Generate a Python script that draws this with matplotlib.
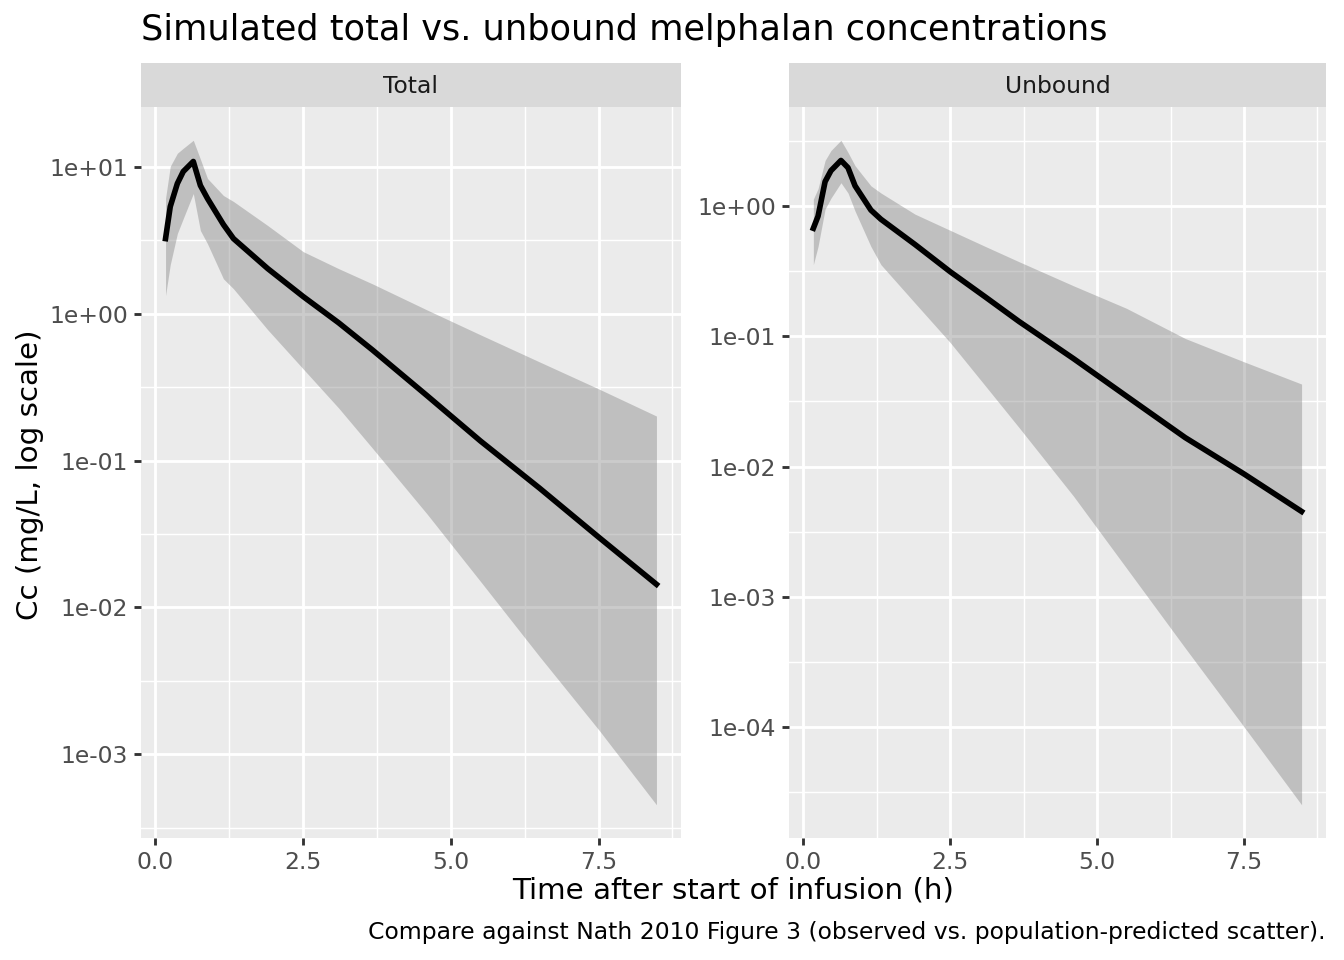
"""
Simulated total vs. unbound melphalan concentrations (median + ribbon), log scale.
"""

import numpy as np
import matplotlib.pyplot as plt
from matplotlib.ticker import FixedLocator, FuncFormatter

# Time grid (h)
time_h = [0.17, 0.25, 0.37, 0.47, 0.64, 0.76, 0.88, 1.15, 1.32, 1.9,
          2.5, 3.1, 3.67, 4.6, 5.5, 6.5, 7.5, 8.48]

# Total concentration (mg/L)
total_med = [3.25, 5.37, 7.71, 9.31, 10.9, 7.48, 6.10, 4.05, 3.25, 2.03,
             1.31, 0.868, 0.568, 0.276, 0.136, 0.0649, 0.0301, 0.01435]
total_hi = [6.10, 10.1, 12.4, 13.4, 15.2, 11.3, 8.35, 6.39, 5.82, 3.99,
            2.65, 2.03, 1.60, 1.06, 0.719, 0.470, 0.308, 0.201]
total_lo = [1.33, 2.16, 3.52, 4.45, 6.59, 3.69, 3.00, 1.73, 1.48, 0.778,
            0.421, 0.228, 0.1217, 0.0431, 0.01504, 0.00463, 0.00147, 0.000452]

# Unbound concentration (mg/L)
unb_med = [0.675, 0.836, 1.54, 1.87, 2.24, 1.97, 1.43, 0.931, 0.792, 0.507,
           0.313, 0.200, 0.130, 0.0673, 0.0347, 0.01667, 0.00877, 0.00452]
unb_hi = [1.13, 1.36, 2.24, 2.67, 3.20, 2.58, 2.04, 1.43, 1.26, 0.867,
          0.651, 0.489, 0.374, 0.244, 0.164, 0.0962, 0.0637, 0.0430]
unb_lo = [0.355, 0.489, 0.948, 1.15, 1.51, 1.26, 0.915, 0.489, 0.355, 0.180,
          0.0895, 0.0415, 0.01995, 0.00591, 0.00166, 0.000404, 0.0001004, 2.53e-5]

panel_names = ['Total', 'Unbound']
x_ticks = [0.0, 2.5, 5.0, 7.5]
x_minor = [1.25, 3.75, 6.25, 8.75]

fig = plt.figure(figsize=(7, 5), dpi=192)

# Panel positions in figure fractions
bottom, top = 0.1271, 0.8885
lefts = [0.1049, 0.5870]
widths = [0.4018, 0.3996]
strip_h = 0.0458

series = [(total_med, total_lo, total_hi), (unb_med, unb_lo, unb_hi)]

for i in range(2):
    ax = fig.add_axes([lefts[i], bottom, widths[i], top - bottom])
    med, lo, hi = series[i]

    ax.set_facecolor('#EBEBEB')
    ax.fill_between(time_h, lo, hi, color='#7F7F7F', alpha=0.4, linewidth=0)
    ax.plot(time_h, med, color='black', linewidth=2.1, solid_joinstyle='round')

    ax.set_yscale('log')
    ax.margins(x=0.05, y=0.05)

    # log ticks and half-decade minor grid
    ylo, yhi = ax.get_ylim()
    dec = np.arange(np.floor(np.log10(ylo)), np.ceil(np.log10(yhi)) + 1)
    majors = [10.0 ** d for d in dec if ylo <= 10.0 ** d <= yhi]
    minors = [10.0 ** (d + 0.5) for d in dec if ylo <= 10.0 ** (d + 0.5) <= yhi]
    ax.yaxis.set_major_locator(FixedLocator(majors))
    ax.yaxis.set_minor_locator(FixedLocator(minors))
    ax.yaxis.set_major_formatter(FuncFormatter(lambda v, p: '%.0e' % v))
    ax.yaxis.set_minor_formatter(FuncFormatter(lambda v, p: ''))
    ax.set_ylim(ylo, yhi)

    ax.xaxis.set_major_locator(FixedLocator(x_ticks))
    ax.xaxis.set_minor_locator(FixedLocator(x_minor))
    ax.xaxis.set_major_formatter(FuncFormatter(lambda v, p: '%.1f' % v))

    ax.grid(which='major', color='white', linewidth=1.07)
    ax.grid(which='minor', color='white', linewidth=0.53)
    ax.set_axisbelow(True)

    for s in ax.spines.values():
        s.set_visible(False)
    ax.tick_params(which='major', length=2.75, width=1.07, color='#333333',
                   labelsize=8.8, labelcolor='#4D4D4D', pad=2.2)
    ax.tick_params(which='minor', length=0)

    # facet strip
    sax = fig.add_axes([lefts[i], top, widths[i], strip_h])
    sax.set_facecolor('#D9D9D9')
    sax.set_xticks([])
    sax.set_yticks([])
    for s in sax.spines.values():
        s.set_visible(False)
    sax.text(0.5, 0.47, panel_names[i], ha='center', va='center',
             fontsize=8.8, color='#1A1A1A', transform=sax.transAxes)

fig.text(0.1049, 0.958, 'Simulated total vs. unbound melphalan concentrations',
         fontsize=13.2, ha='left', va='baseline')
fig.text(0.5457, 0.072, 'Time after start of infusion (h)', fontsize=11,
         ha='center', va='center')
fig.text(0.022, 0.505, 'Cc (mg/L, log scale)', fontsize=11, rotation=90,
         ha='center', va='center')
fig.text(0.9866, 0.029,
         'Compare against Nath 2010 Figure 3 (observed vs. population-predicted scatter).',
         fontsize=8.8, ha='right', va='center')

plt.savefig('out.png', dpi=192)
plt.close()
